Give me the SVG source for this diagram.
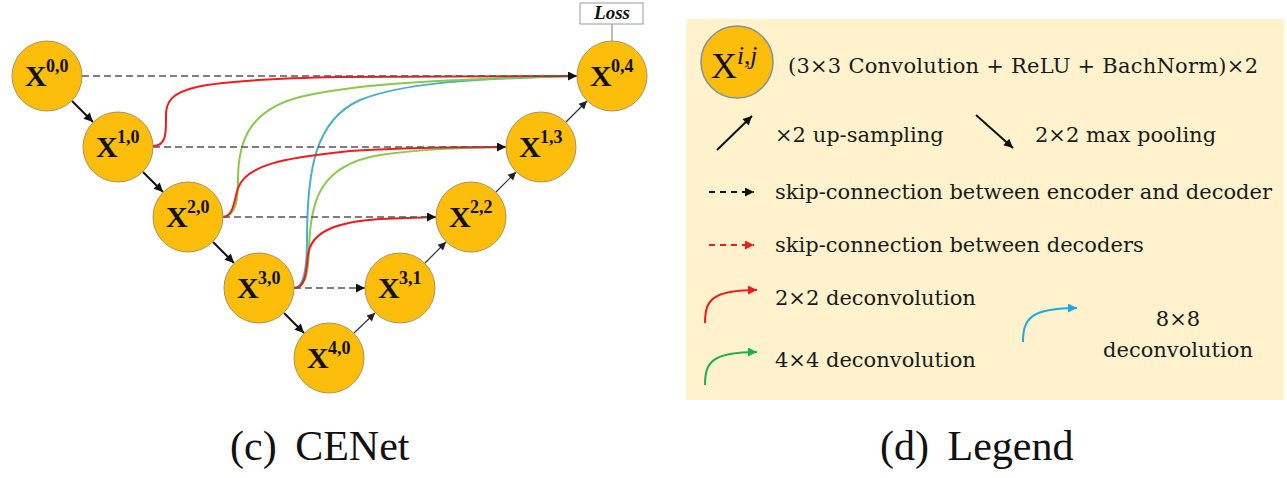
<svg xmlns="http://www.w3.org/2000/svg" width="1287" height="478" viewBox="0 0 1287 478">
<style>
.node{fill:#FCBE0A;stroke:#A8925E;stroke-width:1}
.nx{font-family:"Liberation Serif",serif;font-weight:bold;font-size:30px;fill:#111}
.ns{font-family:"Liberation Serif",serif;font-weight:bold;font-size:18px;fill:#111}
.skip{fill:none;stroke:#555;stroke-width:1.6;stroke-dasharray:7 4}
.down{stroke:#111;stroke-width:2;fill:none}
.up{stroke:#333;stroke-width:1.2;fill:none}
.red{fill:none;stroke:#F01C1C;stroke-width:2}
.green{fill:none;stroke:#8CC84B;stroke-width:2}
.blue{fill:none;stroke:#4BAFC8;stroke-width:2}
.lt{font-family:"DejaVu Serif",serif;font-size:21px;fill:#1a1a1a}
.cap{font-family:"Liberation Serif",serif;font-size:42px;fill:#111}
</style>
<defs>
<marker id="ak" viewBox="0 0 10 10" refX="10" refY="5" markerWidth="12" markerHeight="9" markerUnits="userSpaceOnUse" orient="auto"><path d="M0,0 L10,5 L0,10 Z" fill="#111"/></marker>
<marker id="akl" viewBox="0 0 10 10" refX="10" refY="5" markerWidth="10" markerHeight="8" markerUnits="userSpaceOnUse" orient="auto"><path d="M0,0 L10,5 L0,10 Z" fill="#222"/></marker>
<marker id="ar" viewBox="0 0 10 10" refX="10" refY="5" markerWidth="12" markerHeight="9" markerUnits="userSpaceOnUse" orient="auto"><path d="M0,0 L10,5 L0,10 Z" fill="#F01C1C"/></marker>
<marker id="ag" viewBox="0 0 10 10" refX="10" refY="5" markerWidth="12" markerHeight="9" markerUnits="userSpaceOnUse" orient="auto"><path d="M0,0 L10,5 L0,10 Z" fill="#1DB04B"/></marker>
<marker id="ab" viewBox="0 0 10 10" refX="10" refY="5" markerWidth="12" markerHeight="9" markerUnits="userSpaceOnUse" orient="auto"><path d="M0,0 L10,5 L0,10 Z" fill="#1CA8E3"/></marker>
</defs>
<rect width="1287" height="478" fill="#fff"/>

<g id="connectors">
<path class="blue" d="M294,288 C304,288 307,270 307,240 C307,170 315,120 360,100 C400,84 460,79 577,76"/>
<path class="green" d="M223,217 C236,216 238,200 238,180 C238,140 250,110 300,97 C350,85 420,80 577,76"/>
<path class="green" d="M294,288 C305,288 308,275 309,250 C310,200 320,165 380,155 C420,149 460,148 506,147"/>
<path class="red" d="M153,146 C167,146 166,132 166,115 C166,88 190,80 340,77 L577,76"/>
<path class="red" d="M223,217 C234,216 234,200 238,188 C246,166 280,158 350,151 C400,148 450,147 506,147"/>
<path class="red" d="M294,288 C305,288 306,275 308,255 C311,232 335,222 380,219 L436,217"/>
<line class="skip" x1="82" y1="76" x2="577" y2="76" marker-end="url(#ak)"/>
<line class="skip" x1="153" y1="147" x2="506" y2="147" marker-end="url(#ak)"/>
<line class="skip" x1="223" y1="217" x2="436" y2="217" marker-end="url(#ak)"/>
<line class="skip" x1="294" y1="288" x2="365" y2="288" marker-end="url(#ak)"/>
<line class="down" x1="72" y1="101" x2="93" y2="122" marker-end="url(#ak)"/>
<line class="down" x1="143" y1="172" x2="163" y2="192" marker-end="url(#ak)"/>
<line class="down" x1="213" y1="242" x2="234" y2="263" marker-end="url(#ak)"/>
<line class="down" x1="284" y1="313" x2="304" y2="333" marker-end="url(#ak)"/>
<line class="up" x1="354" y1="333" x2="375" y2="313" marker-end="url(#akl)"/>
<line class="up" x1="425" y1="263" x2="446" y2="242" marker-end="url(#akl)"/>
<line class="up" x1="496" y1="192" x2="516" y2="172" marker-end="url(#akl)"/>
<line class="up" x1="566" y1="122" x2="587" y2="101" marker-end="url(#akl)"/>
<line x1="612" y1="24" x2="612" y2="41" stroke="#777" stroke-width="1"/>
</g>

<g id="loss">
<rect x="580" y="3" width="63" height="21" fill="#fff" stroke="#999" stroke-width="1"/>
<text x="612" y="19" text-anchor="middle" font-family="Liberation Serif, serif" font-weight="bold" font-style="italic" font-size="19" fill="#111">Loss</text>
</g>

<g id="X00"><circle class="node" cx="47" cy="76" r="35"/><text class="nx" x="25" y="86">X</text><text class="ns" x="46" y="72">0,0</text></g>
<g id="X10"><circle class="node" cx="118" cy="147" r="35"/><text class="nx" x="96" y="157">X</text><text class="ns" x="117" y="143">1,0</text></g>
<g id="X20"><circle class="node" cx="188" cy="217" r="35"/><text class="nx" x="166" y="227">X</text><text class="ns" x="187" y="213">2,0</text></g>
<g id="X30"><circle class="node" cx="259" cy="288" r="35"/><text class="nx" x="237" y="298">X</text><text class="ns" x="258" y="284">3,0</text></g>
<g id="X40"><circle class="node" cx="329" cy="358" r="35"/><text class="nx" x="307" y="368">X</text><text class="ns" x="328" y="354">4,0</text></g>
<g id="X31"><circle class="node" cx="400" cy="288" r="35"/><text class="nx" x="378" y="298">X</text><text class="ns" x="399" y="284">3,1</text></g>
<g id="X22"><circle class="node" cx="471" cy="217" r="35"/><text class="nx" x="449" y="227">X</text><text class="ns" x="470" y="213">2,2</text></g>
<g id="X13"><circle class="node" cx="541" cy="147" r="35"/><text class="nx" x="519" y="157">X</text><text class="ns" x="540" y="143">1,3</text></g>
<g id="X04"><circle class="node" cx="612" cy="76" r="35"/><text class="nx" x="590" y="86">X</text><text class="ns" x="611" y="72">0,4</text></g>

<text class="cap" x="230" y="460">(c)<tspan dx="8"> CENet</tspan></text>

<g id="legend">
<rect x="686" y="19" width="598" height="381" fill="#FFF2CC"/>
<circle cx="737" cy="62" r="36" fill="#FCBE0A" stroke="#8090A0" stroke-width="1.5"/>
<text x="711" y="78" font-family="Liberation Serif, serif" font-size="36" fill="#111">X</text>
<text x="737" y="64" font-family="Liberation Serif, serif" font-style="italic" font-size="25" fill="#111">i,j</text>
<text class="lt" x="788" y="73" textLength="470" lengthAdjust="spacing">(3×3 Convolution + ReLU + BachNorm)×2</text>
<line x1="717" y1="150" x2="752" y2="116" stroke="#111" stroke-width="2" marker-end="url(#ak)"/>
<text class="lt" x="775" y="142">×2 up-sampling</text>
<line x1="976" y1="115" x2="1013" y2="148" stroke="#111" stroke-width="2" marker-end="url(#ak)"/>
<text class="lt" x="1035" y="142">2×2 max pooling</text>
<line x1="709" y1="192" x2="754" y2="192" stroke="#111" stroke-width="2" stroke-dasharray="6 5" marker-end="url(#ak)"/>
<text class="lt" x="775" y="199">skip-connection between encoder and decoder</text>
<line x1="709" y1="245" x2="754" y2="245" stroke="#F01C1C" stroke-width="2" stroke-dasharray="6 5" marker-end="url(#ar)"/>
<text class="lt" x="775" y="252">skip-connection between decoders</text>
<path d="M705,323 C705,300 712,290 757,290" fill="none" stroke="#F01C1C" stroke-width="2" marker-end="url(#ar)"/>
<text class="lt" x="775" y="305">2×2 deconvolution</text>
<path d="M705,385 C705,362 712,352 757,352" fill="none" stroke="#1DB04B" stroke-width="2" marker-end="url(#ag)"/>
<text class="lt" x="775" y="367">4×4 deconvolution</text>
<path d="M1023,342 C1023,319 1030,308 1077,308" fill="none" stroke="#1CA8E3" stroke-width="2" marker-end="url(#ab)"/>
<text class="lt" x="1178" y="326" text-anchor="middle">8×8</text>
<text class="lt" x="1178" y="357" text-anchor="middle">deconvolution</text>
</g>

<text class="cap" x="880" y="460">(d)<tspan dx="8"> Legend</tspan></text>
</svg>
